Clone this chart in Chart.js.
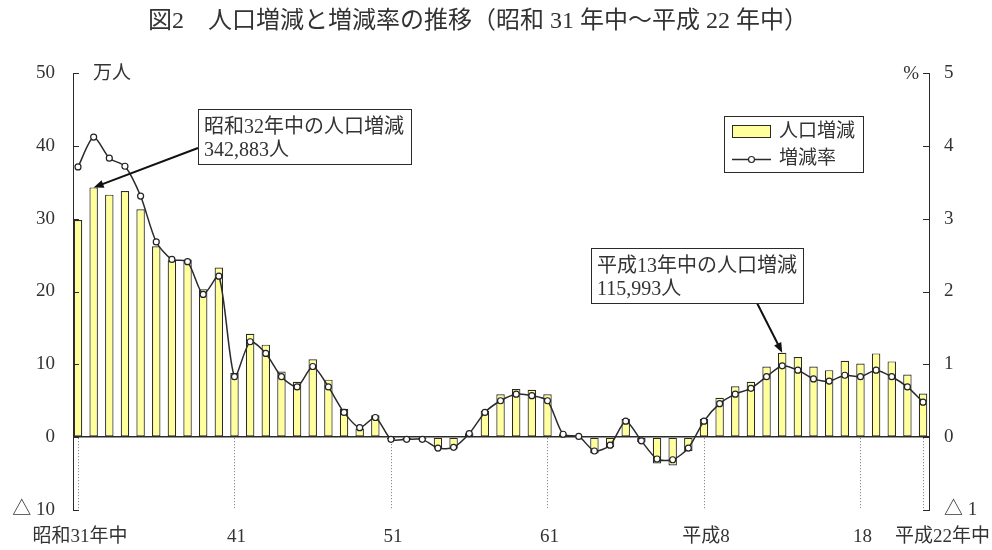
<!DOCTYPE html>
<html lang="ja">
<head>
<meta charset="utf-8">
<title>人口増減と増減率の推移</title>
<script src="https://cdn.jsdelivr.net/npm/chart.js@4.4.1/dist/chart.umd.min.js"></script>
<style>
  html, body { margin: 0; padding: 0; background: #fff; }
  #wrap { width: 992px; height: 550px; }
</style>
</head>
<body>
<div id="wrap"><canvas id="popChart" width="992" height="550"></canvas></div>
<script>
// 年次（昭和31年中～平成22年中）
const years = [
  '昭和31', '昭和32', '昭和33', '昭和34', '昭和35', '昭和36', '昭和37', '昭和38', '昭和39', '昭和40',
  '昭和41', '昭和42', '昭和43', '昭和44', '昭和45', '昭和46', '昭和47', '昭和48', '昭和49', '昭和50',
  '昭和51', '昭和52', '昭和53', '昭和54', '昭和55', '昭和56', '昭和57', '昭和58', '昭和59', '昭和60',
  '昭和61', '昭和62', '昭和63', '平成元', '平成2', '平成3', '平成4', '平成5', '平成6', '平成7',
  '平成8', '平成9', '平成10', '平成11', '平成12', '平成13', '平成14', '平成15', '平成16', '平成17',
  '平成18', '平成19', '平成20', '平成21', '平成22'
];

// 人口増減（万人）
const populationChange = [
  29.8, 34.29, 33.3, 33.8, 31.3, 26.2, 24.3, 24.4, 20.3, 23.3,
  8.8, 14.2, 12.7, 9.0, 7.6, 10.7, 7.9, 3.9, 1.2, 3.0,
  -0.3, -0.3, -0.3, -1.6, -1.6, 0.55, 3.6, 5.9, 6.6, 6.5,
  5.9, 0.4, 0.1, -2.2, -1.4, 2.5, -0.7, -3.6, -3.9, -1.9,
  2.5, 5.4, 7.0, 7.6, 9.7, 11.60, 11.0, 9.7, 9.2, 10.5,
  10.1, 11.5, 10.4, 8.6, 6.0
];

// 増減率（％）
const changeRate = [
  3.71, 4.12, 3.83, 3.72, 3.31, 2.68, 2.44, 2.41, 1.96, 2.21,
  0.83, 1.31, 1.15, 0.83, 0.69, 0.97, 0.69, 0.34, 0.13, 0.27,
  -0.03, -0.03, -0.03, -0.15, -0.14, 0.05, 0.34, 0.50, 0.59, 0.57,
  0.50, 0.04, 0.01, -0.19, -0.11, 0.22, -0.05, -0.30, -0.31, -0.15,
  0.22, 0.46, 0.59, 0.67, 0.83, 0.98, 0.92, 0.80, 0.77, 0.85,
  0.83, 0.92, 0.83, 0.69, 0.48
];

// 横軸の目盛り位置と表示ラベル
const xTickIndex = [0, 10, 20, 30, 40, 50, 54];
const xTickLabels = ['昭和31年中', '41', '51', '61', '平成8', '18', '平成22年中'];

// 吹き出しで示す年
const noteIndex = [1, 45];
const noteLines = [
  ['昭和32年中の人口増減', '342,883人'],
  ['平成13年中の人口増減', '115,993人']
];

const FONT = "'Liberation Serif', 'Noto Sans CJK JP', serif";
const TEXT = '#333';
const BAR_FILL = '#FFFF9C';
const EDGE = '#2a2a2a';

// 負の値は「△」表記
function signedLabel(v) {
  return v < 0 ? '△ ' + (-v) : String(v);
}

function drawArrow(ctx, fx, fy, tx, ty) {
  const ang = Math.atan2(ty - fy, tx - fx);
  const len = 10, half = 4;
  ctx.beginPath();
  ctx.moveTo(fx, fy);
  ctx.lineTo(tx - Math.cos(ang) * len * 0.8, ty - Math.sin(ang) * len * 0.8);
  ctx.stroke();
  ctx.beginPath();
  ctx.moveTo(tx, ty);
  ctx.lineTo(tx - Math.cos(ang) * len - Math.sin(ang) * half, ty - Math.sin(ang) * len + Math.cos(ang) * half);
  ctx.lineTo(tx - Math.cos(ang) * len + Math.sin(ang) * half, ty - Math.sin(ang) * len - Math.cos(ang) * half);
  ctx.closePath();
  ctx.fill();
}

// ─── 補助描画（目盛り線・見出し・凡例・吹き出し） ───────────────
const decorations = {
  id: 'decorations',
  beforeDatasetsDraw(chart) {
    const { ctx, chartArea, scales: { x, yPop } } = chart;
    const y0 = yPop.getPixelForValue(0);
    ctx.save();
    ctx.strokeStyle = '#777';
    ctx.lineWidth = 1;
    ctx.setLineDash([1, 2]);
    xTickIndex.forEach(i => {
      const px = Math.round(x.getPixelForValue(i)) + 0.5;
      ctx.beginPath();
      ctx.moveTo(px, y0 + 1);
      ctx.lineTo(px, chartArea.bottom);
      ctx.stroke();
    });
    ctx.restore();
  },
  afterDraw(chart) {
    const { ctx, chartArea, scales: { x, yPop, yRate } } = chart;
    ctx.save();

    // 内向きの目盛り
    ctx.strokeStyle = EDGE;
    ctx.lineWidth = 1;
    yPop.ticks.forEach(t => {
      const py = Math.round(yPop.getPixelForValue(t.value)) + 0.5;
      ctx.beginPath();
      ctx.moveTo(chartArea.left, py);
      ctx.lineTo(chartArea.left + 6, py);
      ctx.stroke();
    });
    yRate.ticks.forEach(t => {
      const py = Math.round(yRate.getPixelForValue(t.value)) + 0.5;
      ctx.beginPath();
      ctx.moveTo(chartArea.right - 6, py);
      ctx.lineTo(chartArea.right, py);
      ctx.stroke();
    });

    ctx.fillStyle = TEXT;
    ctx.textBaseline = 'middle';

    // 表題
    ctx.font = `24px ${FONT}`;
    ctx.textAlign = 'center';
    ctx.fillText('図2　人口増減と増減率の推移（昭和 31 年中～平成 22 年中）', 478, 22);

    // 単位
    ctx.font = `19px ${FONT}`;
    ctx.textAlign = 'left';
    ctx.fillText('万人', chartArea.left + 20, yPop.getPixelForValue(50) + 1);
    ctx.textAlign = 'right';
    ctx.fillText('%', chartArea.right - 10, yRate.getPixelForValue(5) + 1);

    // 横軸ラベル
    xTickIndex.forEach((i, k) => {
      const last = k === xTickIndex.length - 1;
      ctx.textAlign = last ? 'right' : 'center';
      const px = last ? chart.width - 2 : x.getPixelForValue(i) + 2;
      ctx.fillText(xTickLabels[k], px, 537);
    });

    // 凡例
    ctx.fillStyle = '#fff';
    ctx.fillRect(724.5, 116.5, 139, 56);
    ctx.strokeStyle = EDGE;
    ctx.strokeRect(724.5, 116.5, 139, 56);
    ctx.fillStyle = BAR_FILL;
    ctx.fillRect(732.5, 125.5, 38, 12);
    ctx.strokeRect(732.5, 125.5, 38, 12);
    ctx.lineWidth = 1.5;
    ctx.beginPath();
    ctx.moveTo(732, 159.5);
    ctx.lineTo(771, 159.5);
    ctx.stroke();
    ctx.lineWidth = 1.2;
    ctx.beginPath();
    ctx.arc(751.5, 159.5, 3, 0, Math.PI * 2);
    ctx.fillStyle = '#fff';
    ctx.fill();
    ctx.stroke();
    ctx.fillStyle = TEXT;
    ctx.textAlign = 'left';
    ctx.fillText('人口増減', 779, 132);
    ctx.fillText('増減率', 779, 159);

    // 吹き出し
    const boxes = [
      { x: 198, y: 109, w: 213, h: 55, fromX: 198, fromY: 148 },
      { x: 591, y: 248, w: 212, h: 55, fromX: 757, fromY: 303 }
    ];
    noteIndex.forEach((idx, n) => {
      const b = boxes[n];
      const tx = x.getPixelForValue(idx);
      const ty = yPop.getPixelForValue(populationChange[idx]);
      ctx.strokeStyle = '#111';
      ctx.fillStyle = '#111';
      ctx.lineWidth = 2;
      drawArrow(ctx, b.fromX, b.fromY, tx, ty);
      ctx.fillStyle = '#fff';
      ctx.fillRect(b.x + 0.5, b.y + 0.5, b.w, b.h);
      ctx.lineWidth = 1;
      ctx.strokeStyle = EDGE;
      ctx.strokeRect(b.x + 0.5, b.y + 0.5, b.w, b.h);
      ctx.fillStyle = TEXT;
      ctx.font = `20px ${FONT}`;
      ctx.textAlign = 'left';
      ctx.fillText(noteLines[n][0], b.x + 6, b.y + 19);
      ctx.fillText(noteLines[n][1], b.x + 6, b.y + 42);
    });

    ctx.restore();
  }
};

const canvas = document.getElementById('popChart');

new Chart(canvas, {
  type: 'bar',
  data: {
    datasets: [
      {
        type: 'line',
        label: '増減率',
        data: changeRate.map((v, i) => ({ x: i, y: v })),
        yAxisID: 'yRate',
        order: 0,
        borderColor: '#2a2a2a',
        borderWidth: 1.5,
        tension: 0.25,
        pointRadius: 3,
        pointBackgroundColor: '#fff',
        pointBorderColor: '#222',
        pointBorderWidth: 1.2
      },
      {
        type: 'bar',
        label: '人口増減',
        data: populationChange.map((v, i) => ({ x: i, y: v })),
        yAxisID: 'yPop',
        order: 1,
        backgroundColor: BAR_FILL,
        borderColor: '#2a2a2a',
        borderWidth: 1.2,
        borderSkipped: false,
        categoryPercentage: 1,
        barPercentage: 0.54
      }
    ]
  },
  options: {
    responsive: false,
    animation: false,
    layout: { padding: { top: 73, bottom: 40, left: 0, right: 0 } },
    plugins: {
      legend: { display: false },
      tooltip: { enabled: false },
      title: { display: false }
    },
    scales: {
      x: {
        type: 'linear',
        min: -0.32,
        max: 54.38,
        offset: false,
        afterBuildTicks: s => { s.ticks = xTickIndex.map(v => ({ value: v })); },
        ticks: { display: false },
        grid: { display: false, offset: false },
        border: { display: false },
        afterFit: s => { s.height = 0; }
      },
      yPop: {
        position: 'left',
        min: -10,
        max: 50,
        ticks: {
          stepSize: 10,
          padding: 18,
          color: TEXT,
          font: { family: FONT, size: 19 },
          callback: v => signedLabel(v)
        },
        grid: {
          drawTicks: false,
          color: c => (c.tick && c.tick.value === 0 ? EDGE : 'rgba(0,0,0,0)'),
          lineWidth: 1.5
        },
        border: { color: EDGE, width: 1 },
        afterFit: s => { s.width = 73; }
      },
      yRate: {
        position: 'right',
        min: -1,
        max: 5,
        ticks: {
          stepSize: 1,
          padding: 15,
          color: TEXT,
          font: { family: FONT, size: 19 },
          callback: v => signedLabel(v)
        },
        grid: { drawOnChartArea: false, drawTicks: false },
        border: { color: EDGE, width: 1 },
        afterFit: s => { s.width = 63; }
      }
    }
  },
  plugins: [decorations]
});
</script>
</body>
</html>
